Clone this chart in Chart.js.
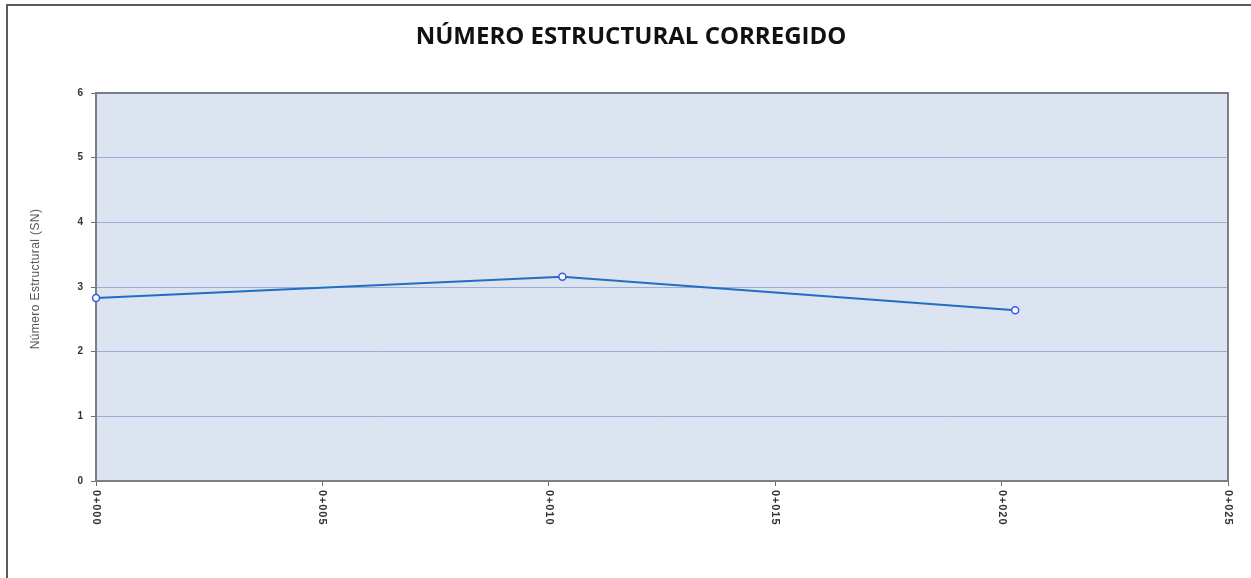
<!DOCTYPE html>
<html>
<head>
<meta charset="utf-8">
<script src="https://cdn.jsdelivr.net/npm/chart.js@4.4.1/dist/chart.umd.min.js"></script>
<style>
  html, body { margin: 0; padding: 0; background: #ffffff; }
  #wrap { width: 1251px; height: 578px; position: relative; }
</style>
</head>
<body>
<div id="wrap"><canvas id="chart" width="1251" height="578"></canvas></div>
<script>
// Chainage (station, in units of the station label) and structural number
const stations = [0, 10.3, 20.3];
const snValues = [2.83, 3.16, 2.64];
const xTickValues = [0, 5, 10, 15, 20, 25];
const yTickValues = [0, 1, 2, 3, 4, 5, 6];

const chartTitle = 'NÚMERO ESTRUCTURAL CORREGIDO';
const yAxisTitle = 'Número Estructural (SN)';

function stationLabel(v) {
  const n = Math.round(v);
  return '0+' + String(n).padStart(3, '0');
}

// Outer frame, plot background, plot border, titles and rotated station labels
const decorations = {
  id: 'decorations',
  beforeDraw(chart) {
    const { ctx, chartArea: a } = chart;
    ctx.save();
    ctx.fillStyle = '#ffffff';
    ctx.fillRect(0, 0, chart.width, chart.height);
    ctx.strokeStyle = '#5a5a5a';
    ctx.lineWidth = 2;
    ctx.beginPath();
    ctx.moveTo(7, chart.height + 5);
    ctx.lineTo(7, 5);
    ctx.lineTo(chart.width + 5, 5);
    ctx.stroke();
    ctx.fillStyle = '#dbe4f0';
    ctx.fillRect(a.left, a.top, a.right - a.left, a.bottom - a.top);

    ctx.fillStyle = '#111111';
    ctx.font = 'bold 24px "Open Sans", "Liberation Sans", sans-serif';
    ctx.textAlign = 'center';
    ctx.textBaseline = 'middle';
    ctx.fillText(chartTitle, 631, 37);

    ctx.save();
    ctx.translate(36, 279);
    ctx.rotate(-Math.PI / 2);
    ctx.fillStyle = '#555555';
    ctx.font = '12px "Liberation Sans", Arial, sans-serif';
    ctx.letterSpacing = '0.4px';
    ctx.fillText(yAxisTitle, 0, 0);
    ctx.restore();
    ctx.restore();
  },
  beforeDatasetsDraw(chart) {
    const { ctx, chartArea: a } = chart;
    ctx.save();
    ctx.strokeStyle = '#7a7f86';
    ctx.lineWidth = 2;
    ctx.strokeRect(a.left, a.top, a.right - a.left, a.bottom - a.top);
    ctx.restore();
  },
  afterDraw(chart) {
    const { ctx, chartArea: a } = chart;
    const xs = chart.scales.x;
    ctx.save();
    ctx.fillStyle = '#333333';
    ctx.font = 'bold 11px "Liberation Sans", Arial, sans-serif';
    ctx.letterSpacing = '0.9px';
    ctx.textAlign = 'left';
    ctx.textBaseline = 'middle';
    xTickValues.forEach(v => {
      const px = xs.getPixelForValue(v);
      ctx.save();
      ctx.translate(px, a.bottom + 9);
      ctx.rotate(Math.PI / 2);
      ctx.fillText(stationLabel(v), 0, 0);
      ctx.restore();
    });
    ctx.restore();
  }
};

new Chart(document.getElementById('chart'), {
  type: 'line',
  data: {
    datasets: [{
      data: stations.map((s, i) => ({ x: s, y: snValues[i] })),
      borderColor: '#1f6fc2',
      borderWidth: 2,
      pointRadius: 3.5,
      pointHoverRadius: 3.5,
      pointBackgroundColor: '#ffffff',
      pointBorderColor: '#3a57e8',
      pointBorderWidth: 1.5,
      tension: 0,
      clip: false
    }]
  },
  options: {
    responsive: false,
    animation: false,
    events: [],
    layout: { padding: { top: 93, right: 23, bottom: 0, left: 0 } },
    plugins: { legend: { display: false }, tooltip: { enabled: false }, title: { display: false } },
    scales: {
      x: {
        type: 'linear',
        min: 0,
        max: 25,
        afterBuildTicks(scale) { scale.ticks = xTickValues.map(v => ({ value: v })); },
        afterFit(scale) { scale.height = 97; },
        ticks: { display: false },
        grid: { drawOnChartArea: false, drawTicks: true, tickLength: 5, color: '#6d6d6d', lineWidth: 1 },
        border: { display: true, color: '#5f646b', width: 2 }
      },
      y: {
        min: 0,
        max: 6,
        afterBuildTicks(scale) { scale.ticks = yTickValues.map(v => ({ value: v })); },
        afterFit(scale) { scale.width = 96; },
        ticks: {
          color: '#333333',
          font: { family: '"Liberation Sans", Arial, sans-serif', size: 10, weight: 'bold' },
          padding: 8
        },
        grid: {
          color: '#98aed6',
          lineWidth: 1,
          borderDash: [4, 3],
          tickColor: '#6d6d6d',
          tickBorderDash: [],
          tickLength: 5
        },
        border: { display: true, color: '#7a7f86', width: 2 }
      }
    }
  },
  plugins: [decorations]
});
</script>
</body>
</html>
